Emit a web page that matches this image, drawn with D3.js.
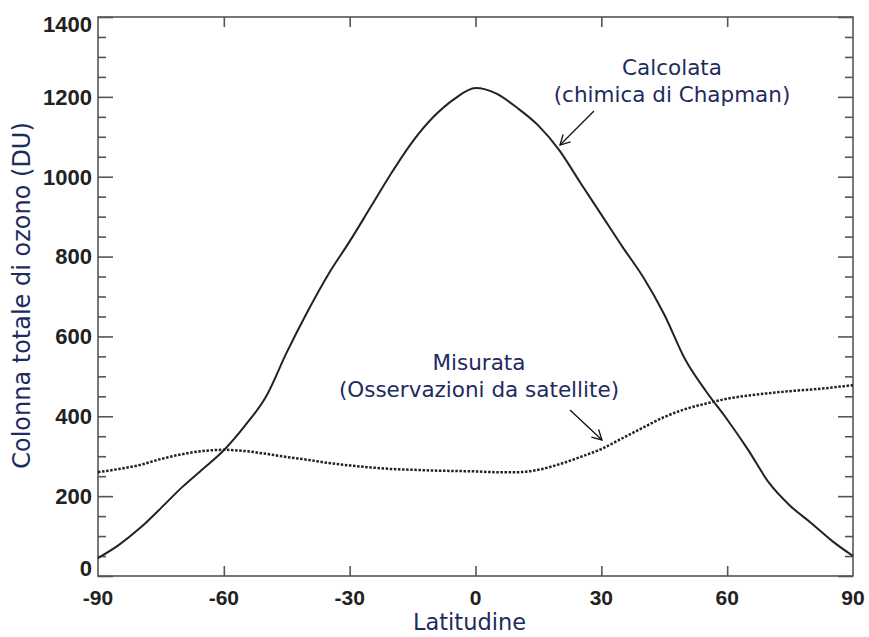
<!DOCTYPE html>
<html><head><meta charset="utf-8">
<script src="https://cdn.jsdelivr.net/npm/d3@7"></script>
<style>body{margin:0;background:#fff}svg{display:block}</style>
</head><body>
<script>
// ---- data ----
const latitudes = [-90,-85,-80,-75,-70,-65,-60,-55,-50,-45,-40,-35,-30,-25,-20,-15,-10,-5,0,5,10,15,20,25,30,35,40,45,50,55,60,65,70,75,80,85,90];
const calcolata = [45,78,120,170,222,268,315,376,448,560,663,757,838,924,1010,1088,1150,1195,1222,1208,1172,1128,1066,985,905,825,748,655,542,462,392,316,233,176,133,88,50];
const misurata  = [260,268,278,293,305,313,316,313,306,298,291,283,277,272,268,266,264,263,262,260,260,266,280,298,318,345,372,398,418,432,444,452,458,463,467,472,478];
const xTicks = [-90,-60,-30,0,30,60,90];
const yMajor = [0,200,400,600,800,1000,1200,1400];
const yMinor = d3.range(0,1401,50).filter(v=>v%200!==0);
const xTitle = "Latitudine";
const yTitle = "Colonna totale di ozono (DU)";
const noteLines = [["Calcolata","(chimica di Chapman)"],["Misurata","(Osservazioni da satellite)"]];

const W=869,H=637;
const svg=d3.select("body").append("svg").attr("width",W).attr("height",H);
const x=d3.scaleLinear().domain([-90,90]).range([98,853]);
const y=d3.scaleLinear().domain([0,1400]).range([576,17]);
const axisCol="#555", txtCol="#1e2b5e";

// frame
svg.append("rect").attr("x",x(-90)).attr("y",y(1400)).attr("width",x(90)-x(-90)).attr("height",y(0)-y(1400))
  .attr("fill","none").attr("stroke",axisCol).attr("stroke-width",1.6);

// axes
const gL=svg.append("g").attr("transform",`translate(${x(-90)},0)`)
  .call(d3.axisRight(y).tickValues(yMajor).tickSize(15).tickFormat(""));
const gLm=svg.append("g").attr("transform",`translate(${x(-90)},0)`)
  .call(d3.axisRight(y).tickValues(yMinor).tickSize(8).tickFormat(""));
const gR=svg.append("g").attr("transform",`translate(${x(90)},0)`)
  .call(d3.axisLeft(y).tickValues(yMajor).tickSize(15).tickFormat(""));
const gRm=svg.append("g").attr("transform",`translate(${x(90)},0)`)
  .call(d3.axisLeft(y).tickValues(yMinor).tickSize(8).tickFormat(""));
const gB=svg.append("g").attr("transform",`translate(0,${y(0)})`)
  .call(d3.axisTop(x).tickValues(xTicks.slice(1,-1)).tickSize(10).tickFormat(""));
const gT=svg.append("g").attr("transform",`translate(0,${y(1400)})`)
  .call(d3.axisBottom(x).tickValues(xTicks.slice(1,-1)).tickSize(10).tickFormat(""));
[gL,gLm,gR,gRm,gB,gT].forEach(g=>{g.select(".domain").remove();g.selectAll("line").attr("stroke",axisCol).attr("stroke-width",1.6);});

// tick labels
svg.append("g").selectAll("text").data(yMajor).join("text")
  .attr("x",x(-90)-6).attr("y",(d,i)=>y(d)+ (i===yMajor.length-1?7:(i===0?-8:0)))
  .attr("dy","0.36em").attr("text-anchor","end")
  .attr("font-family","Liberation Sans, Arial, sans-serif").attr("font-weight","bold").attr("font-size",22)
  .attr("fill","#222").text(d=>d);
svg.append("g").selectAll("text").data(xTicks).join("text")
  .attr("x",d=>x(d)).attr("y",y(0)+29).attr("text-anchor","middle")
  .attr("font-family","Liberation Sans, Arial, sans-serif").attr("font-weight","bold").attr("font-size",21)
  .attr("fill","#222").text(d=>d);

// titles
svg.append("text").attr("x",x(0)-6).attr("y",630).attr("text-anchor","middle")
  .attr("font-family","DejaVu Sans, sans-serif").attr("font-size",22.5).attr("fill",txtCol).text(xTitle);
svg.append("text").attr("transform",`translate(30,${(473+118)/2}) rotate(-90)`).attr("text-anchor","middle")
  .attr("font-family","DejaVu Sans, sans-serif").attr("font-size",24).attr("fill",txtCol).text(yTitle);

// lines
const line=d3.line().x((d,i)=>x(latitudes[i])).y(d=>y(d)).curve(d3.curveMonotoneX);
svg.append("path").attr("d",line(calcolata)).attr("fill","none").attr("stroke","#222").attr("stroke-width",2);
svg.append("path").attr("d",line(misurata)).attr("fill","none").attr("stroke","#222").attr("stroke-width",2.5).attr("stroke-dasharray","2.5,1.6");

// annotations
const notePos=[{cx:672,y0:75,ax1:594,ay1:111,ax2:560,ay2:145},{cx:479,y0:370,ax1:570,ay1:410,ax2:602,ay2:440}];
noteLines.forEach((lines,k)=>{
  const p=notePos[k];
  const t=svg.append("text").attr("text-anchor","middle")
    .attr("font-family","DejaVu Sans, sans-serif").attr("font-size",21.5).attr("fill",txtCol);
  lines.forEach((s,i)=>t.append("tspan").attr("x",p.cx).attr("y",p.y0+i*27).text(s));
  svg.append("line").attr("x1",p.ax1).attr("y1",p.ay1).attr("x2",p.ax2).attr("y2",p.ay2).attr("stroke","#111").attr("stroke-width",1.3);
  const ang=Math.atan2(p.ay2-p.ay1,p.ax2-p.ax1), L=11, s=0.5;
  const h=(a)=>[p.ax2-L*Math.cos(ang+a),p.ay2-L*Math.sin(ang+a)];
  svg.append("path").attr("d",`M${h(s)}L${p.ax2},${p.ay2}L${h(-s)}`).attr("fill","none").attr("stroke","#111").attr("stroke-width",1.3);
});
</script>
</body></html>
